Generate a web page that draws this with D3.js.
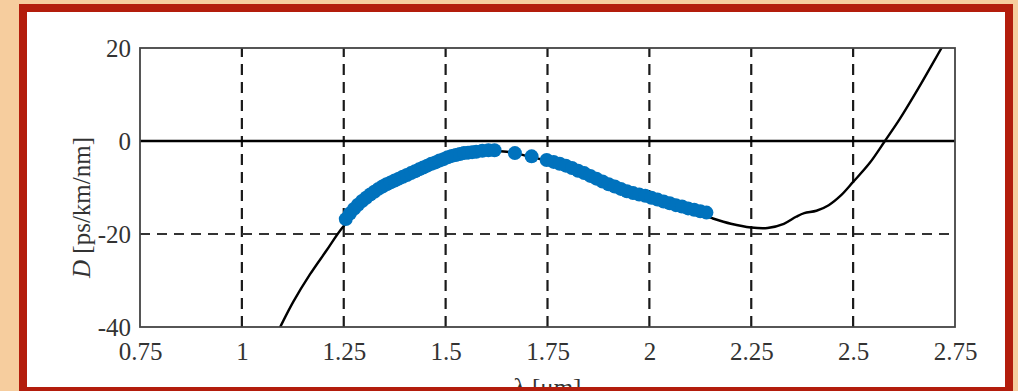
<!DOCTYPE html>
<html>
<head>
<meta charset="utf-8">
<script src="https://cdn.jsdelivr.net/npm/d3@7"></script>
<style>
  html, body { margin: 0; padding: 0; background: #f6cd9e; }
  svg { display: block; }
</style>
</head>
<body>
<svg id="chart" width="1018" height="391"></svg>
<script>
// Tick values and labels
const xTicks = [0.75, 1, 1.25, 1.5, 1.75, 2, 2.25, 2.5, 2.75];
const xTickLabels = ["0.75", "1", "1.25", "1.5", "1.75", "2", "2.25", "2.5", "2.75"];
const yTicks = [-40, -20, 0, 20];
const yTickLabels = ["-40", "-20", "0", "20"];
const xGrid = [1, 1.25, 1.5, 1.75, 2, 2.25, 2.5];
const yGrid = [-20];

// Fitted dispersion curve D(λ) [ps/km/nm]
const curveLambda = [1.06, 1.094, 1.126, 1.167, 1.208, 1.245, 1.30, 1.35, 1.40, 1.45, 1.50, 1.55, 1.60, 1.65,
  1.70, 1.75, 1.80, 1.85, 1.90, 1.95, 2.00, 2.05, 2.10, 2.15, 2.20, 2.25, 2.29, 2.33, 2.36, 2.38, 2.41,
  2.44, 2.47, 2.50, 2.54, 2.578, 2.615, 2.66, 2.717, 2.74];
const curveD = [-46, -40, -34.6, -28.7, -23.5, -18.8, -13.5, -10.0, -7.4, -5.4, -3.8, -2.8, -2.2, -2.3,
  -3.2, -4.3, -5.7, -7.4, -9.1, -10.7, -12.2, -13.6, -15.0, -16.5, -17.8, -18.6, -18.7, -17.8, -16.3, -15.5, -15.0,
  -13.8, -11.7, -8.8, -4.8, 0, 4.8, 11.3, 20, 23.5];

// Measured dispersion points
const measLambda = [1.255, 1.265, 1.275, 1.285, 1.295, 1.305, 1.315, 1.325, 1.335, 1.345, 1.355, 1.365,
  1.375, 1.385, 1.395, 1.405, 1.415, 1.425, 1.435, 1.445, 1.455, 1.465, 1.475, 1.485, 1.495, 1.505,
  1.515, 1.525, 1.535, 1.545, 1.555, 1.565, 1.575, 1.59, 1.605, 1.62, 1.67, 1.711, 1.748,
  1.765, 1.78, 1.795, 1.81, 1.825, 1.84, 1.855, 1.87, 1.885, 1.90, 1.915, 1.93, 1.945, 1.96, 1.975,
  1.99, 2.005, 2.02, 2.035, 2.05, 2.065, 2.08, 2.095, 2.11, 2.125, 2.14];
const measD = [-16.8, -15.6, -14.6, -13.7, -12.9, -12.2, -11.5, -10.9, -10.3, -9.8, -9.3, -8.9,
  -8.5, -8.1, -7.7, -7.3, -6.9, -6.5, -6.1, -5.7, -5.3, -4.9, -4.6, -4.2, -3.9, -3.5,
  -3.2, -3.0, -2.8, -2.6, -2.5, -2.4, -2.3, -2.1, -2.0, -2.0, -2.6, -3.3, -4.1,
  -4.5, -4.9, -5.3, -5.8, -6.4, -6.9, -7.5, -8.1, -8.7, -9.3, -9.8, -10.3, -10.8, -11.2, -11.5,
  -11.8, -12.2, -12.6, -13.0, -13.4, -13.8, -14.1, -14.5, -14.8, -15.1, -15.4];

const svg = d3.select("#chart");
const W = 1018, H = 391;
const plot = { left: 140, right: 955, top: 48, bottom: 327 };

// White card inside the framed border
svg.append("rect").attr("x", 0).attr("y", 0).attr("width", W).attr("height", H).attr("fill", "#f6cd9e");
svg.append("rect").attr("x", 20).attr("y", 4).attr("width", 993).attr("height", 395).attr("fill", "#ffffff");

const x = d3.scaleLinear().domain([0.75, 2.75]).range([plot.left, plot.right]);
const y = d3.scaleLinear().domain([-40, 20]).range([plot.bottom, plot.top]);

const font = "'Liberation Serif', 'Times New Roman', serif";

svg.append("clipPath").attr("id", "plotClip")
  .append("rect")
  .attr("x", plot.left).attr("y", plot.top)
  .attr("width", plot.right - plot.left).attr("height", plot.bottom - plot.top);

// Grid lines
svg.append("g").selectAll("line").data(xGrid).join("line")
  .attr("x1", d => x(d)).attr("x2", d => x(d))
  .attr("y1", plot.bottom).attr("y2", plot.top)
  .attr("stroke", "#1a1a1a").attr("stroke-width", 2.2)
  .attr("stroke-dasharray", "11,7");

svg.append("g").selectAll("line").data(yGrid).join("line")
  .attr("x1", plot.left).attr("x2", plot.right)
  .attr("y1", d => y(d)).attr("y2", d => y(d))
  .attr("stroke", "#333").attr("stroke-width", 2)
  .attr("stroke-dasharray", "10,7");

// Zero line
svg.append("line")
  .attr("x1", plot.left).attr("x2", plot.right)
  .attr("y1", y(0)).attr("y2", y(0))
  .attr("stroke", "#000").attr("stroke-width", 2.6);

// Fitted curve
const curvePts = curveLambda.map((l, i) => [l, curveD[i]]);
svg.append("path")
  .datum(curvePts)
  .attr("clip-path", "url(#plotClip)")
  .attr("fill", "none")
  .attr("stroke", "#000")
  .attr("stroke-width", 2.4)
  .attr("d", d3.line().x(d => x(d[0])).y(d => y(d[1])).curve(d3.curveCatmullRom.alpha(0.5)));

// Measured points
const measPts = measLambda.map((l, i) => [l, measD[i]]);
svg.append("g").selectAll("circle").data(measPts).join("circle")
  .attr("cx", d => x(d[0])).attr("cy", d => y(d[1]))
  .attr("r", 7)
  .attr("fill", "#0072bd");

// Axes frame
svg.append("rect")
  .attr("x", plot.left).attr("y", plot.top)
  .attr("width", plot.right - plot.left).attr("height", plot.bottom - plot.top)
  .attr("fill", "none").attr("stroke", "#444").attr("stroke-width", 1.8);

// Tick labels
const xAxis = d3.axisBottom(x).tickValues(xTicks)
  .tickFormat((d, i) => xTickLabels[i]).tickSize(0).tickPadding(15);
const gx = svg.append("g").attr("transform", `translate(0,${plot.bottom})`).call(xAxis);
gx.select(".domain").remove();
gx.selectAll("text").attr("font-family", font).attr("font-size", 25).attr("fill", "#333");

const yAxis = d3.axisLeft(y).tickValues(yTicks)
  .tickFormat((d, i) => yTickLabels[i]).tickSize(0).tickPadding(9);
const gy = svg.append("g").attr("transform", `translate(${plot.left},0)`).call(yAxis);
gy.select(".domain").remove();
gy.selectAll("text").attr("font-family", font).attr("font-size", 25).attr("fill", "#333");

// Axis titles
const yTitle = svg.append("text")
  .attr("transform", `translate(90,${(plot.top + plot.bottom) / 2 + 20}) rotate(-90)`)
  .attr("text-anchor", "middle")
  .attr("font-family", font).attr("font-size", 25).attr("fill", "#333");
yTitle.append("tspan").attr("font-style", "italic").text("D");
yTitle.append("tspan").text(" [ps/km/nm]");

svg.append("text")
  .attr("x", (plot.left + plot.right) / 2).attr("y", 396)
  .attr("text-anchor", "middle")
  .attr("font-family", font).attr("font-size", 25).attr("fill", "#333")
  .text("λ [μm]");

// Red border drawn last so it overlaps the card edge
svg.append("rect")
  .attr("x", 23).attr("y", 8)
  .attr("width", 986).attr("height", 400)
  .attr("fill", "none").attr("stroke", "#b31d0c").attr("stroke-width", 8);
svg.append("rect").attr("x", 19).attr("y", 387).attr("width", 994).attr("height", 4).attr("fill", "#b31d0c");
</script>
</body>
</html>
